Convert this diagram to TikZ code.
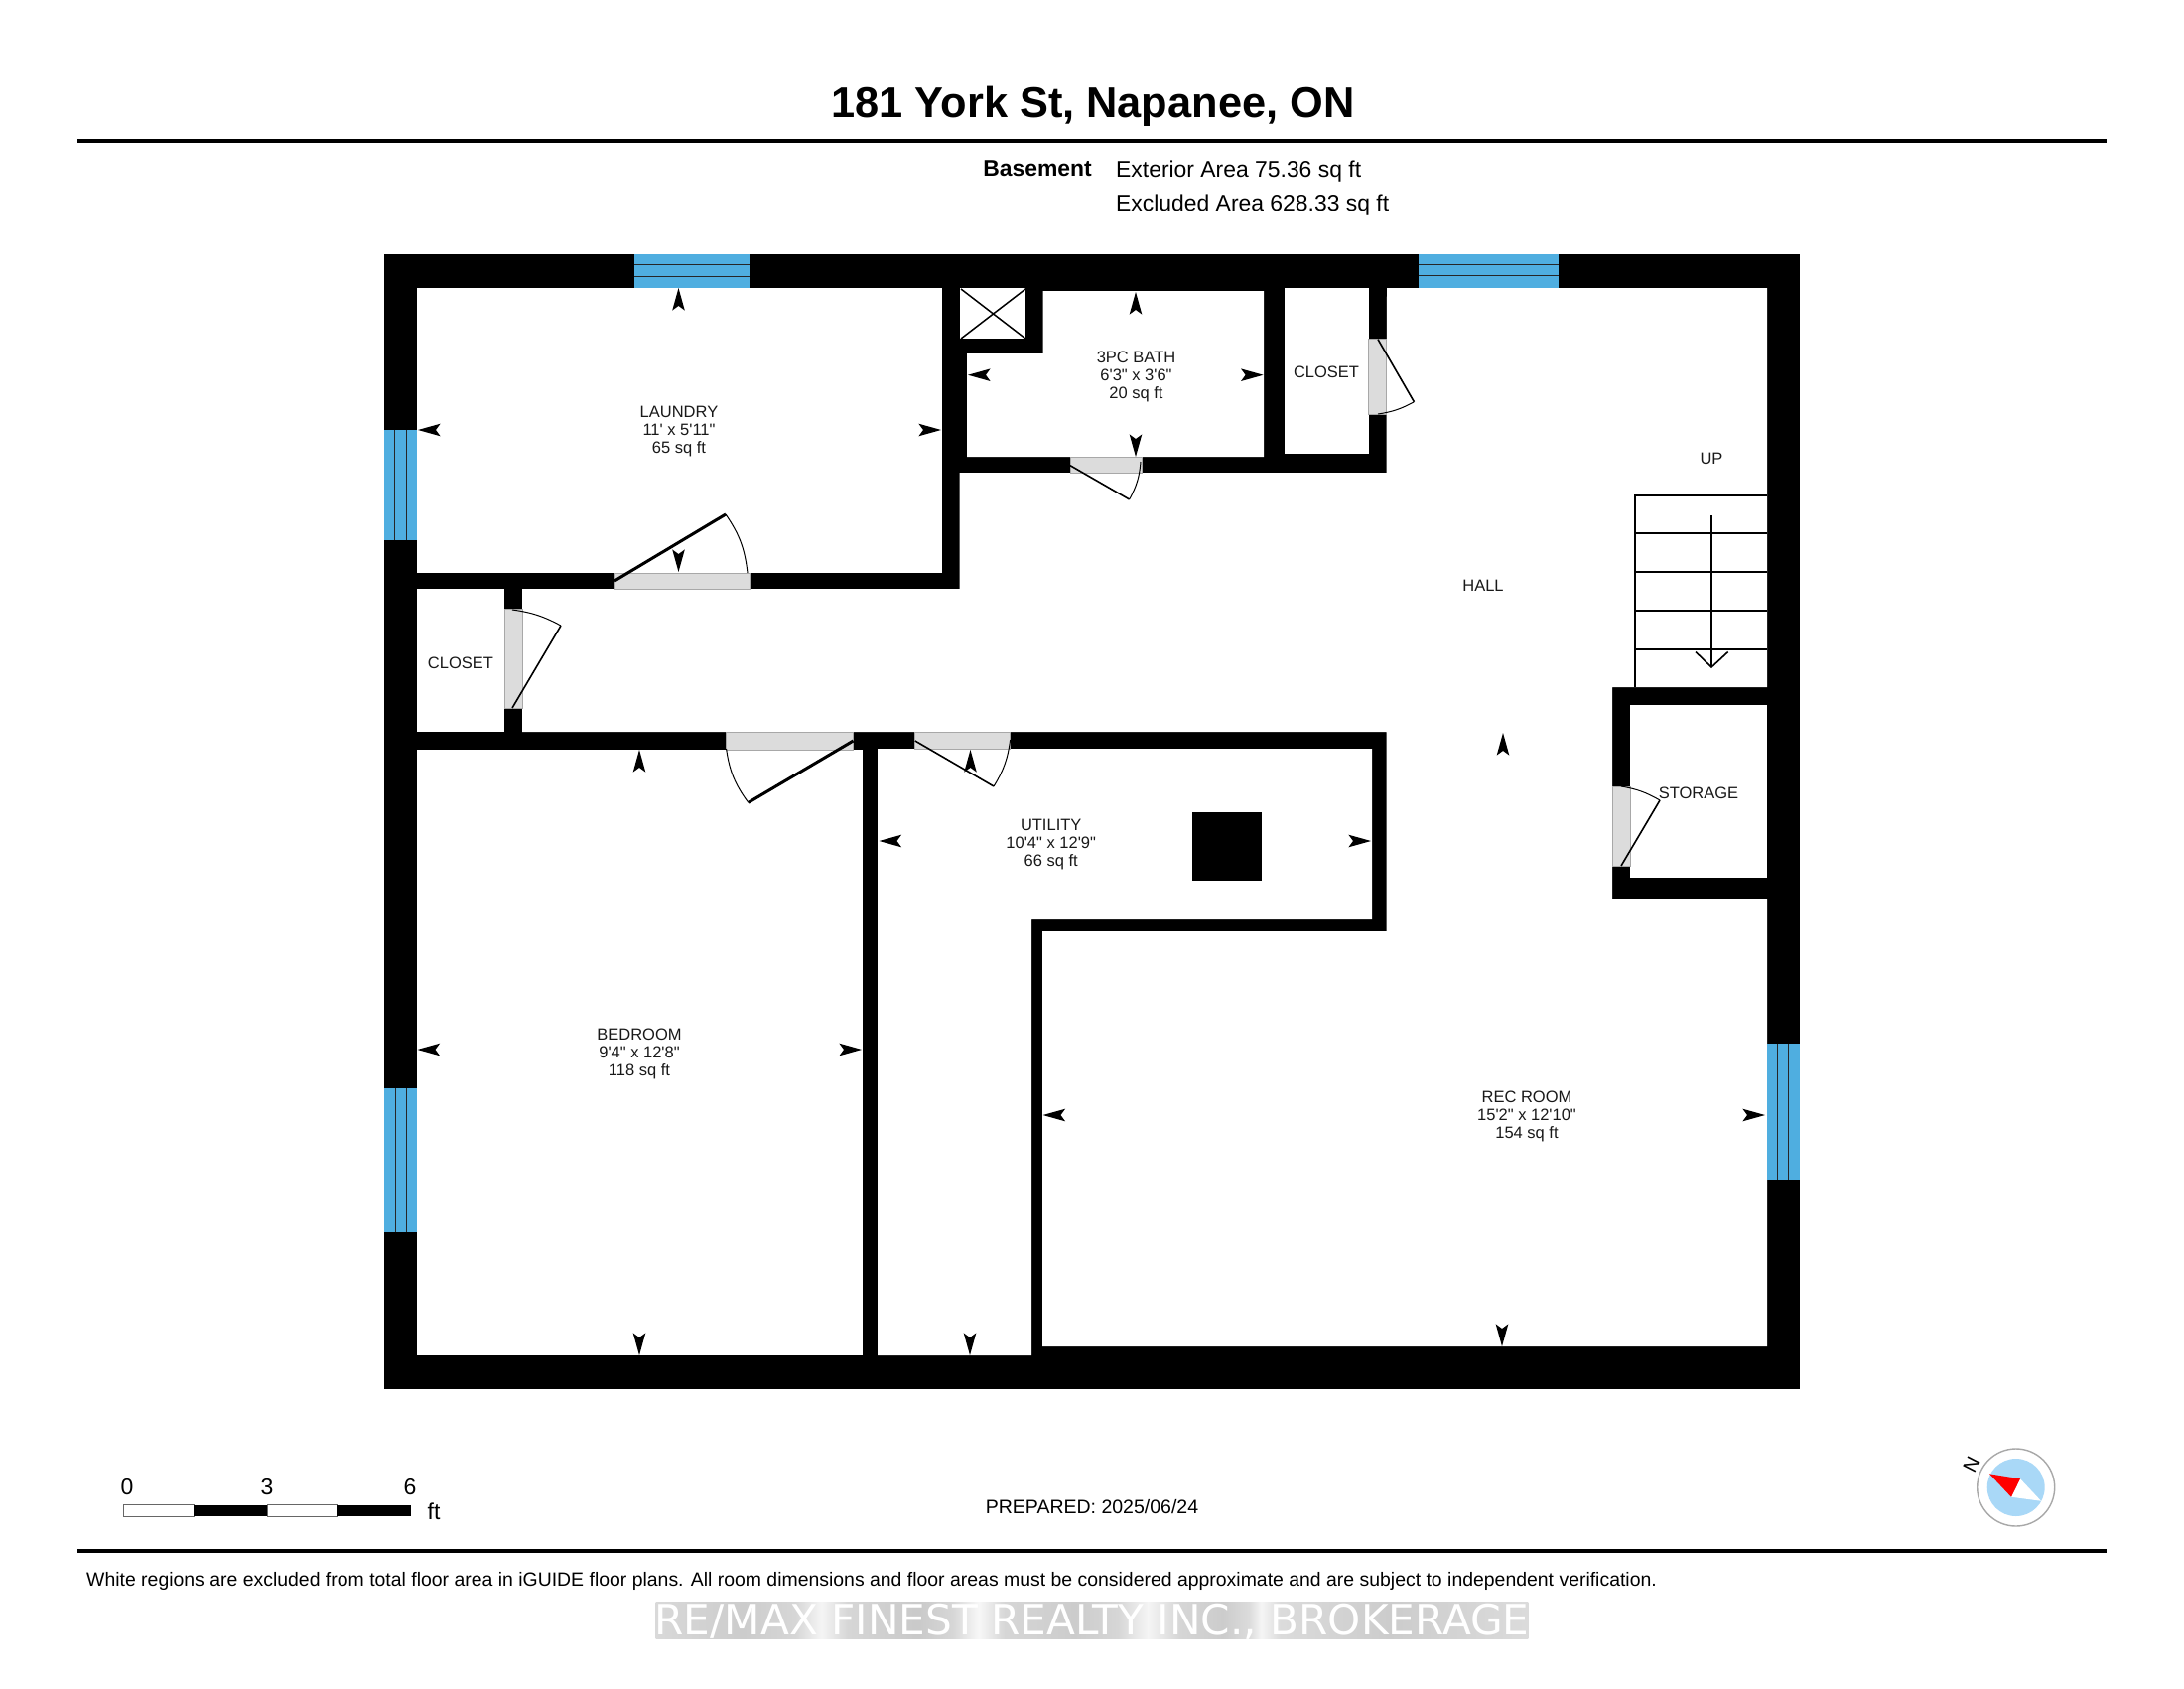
\documentclass[tikz,border=0pt]{standalone}
\usepackage{fontspec}
\newfontfamily\lsans{Liberation Sans}
\newfontfamily\dvsans{DejaVu Sans}
\definecolor{winblue}{HTML}{4FAEE0}
\definecolor{doorgray}{HTML}{DCDCDC}
\definecolor{edgegray}{HTML}{A8A8A8}
\definecolor{compblue}{HTML}{A9D8F7}
\pgfdeclarehorizontalshading{markshade}{100bp}{
 rgb(0bp)=(.85,.85,.85); rgb(25bp)=(.85,.85,.85); rgb(30bp)=(.80,.80,.80); rgb(33bp)=(.84,.84,.84);
 rgb(34.5bp)=(.96,.96,.96); rgb(36bp)=(.84,.84,.84); rgb(40bp)=(.79,.79,.79); rgb(42bp)=(.84,.84,.84);
 rgb(43.5bp)=(.97,.97,.97); rgb(45bp)=(.84,.84,.84); rgb(49bp)=(.80,.80,.80); rgb(51.5bp)=(.84,.84,.84);
 rgb(53.2bp)=(.96,.96,.96); rgb(55bp)=(.84,.84,.84); rgb(57.5bp)=(.80,.80,.80); rgb(59bp)=(.86,.86,.86);
 rgb(59.7bp)=(.96,.96,.96); rgb(60.8bp)=(.86,.86,.86); rgb(67bp)=(.80,.80,.80); rgb(75bp)=(.86,.86,.86); rgb(100bp)=(.86,.86,.86)}
\tikzset{
 lbl/.style={font=\lsans\fontsize{16.5}{18}\selectfont,align=center,inner sep=0pt,text=black!90,yshift=-1.7pt},
 wall/.style={fill=black},
 room/.style={fill=white},
 win/.style={fill=winblue},
 winline/.style={draw=black!85,line width=1pt},
 doorbox/.style={fill=doorgray,draw=edgegray,line width=.8pt},
 leafthick/.style={draw=black,line width=3pt},
 leafthin/.style={draw=black,line width=1.6pt},
 swing/.style={draw=black,line width=1pt},
 stair/.style={draw=black,line width=1.6pt},
 rule/.style={draw=black,line width=4pt},
}
\newcommand{\roomarrow}[3]{\fill[shift={(#1,#2)},rotate=#3] (0,0)--(-6.3,22.6)--(0,18)--(6.3,22.6)--cycle;}
\begin{document}
\begin{tikzpicture}[x=1pt,y=-1pt]
\useasboundingbox (0,0) rectangle (2200,1700);
\fill[white] (0,0) rectangle (2200,1700);
% header
\node[inner sep=0pt,font=\lsans\bfseries\fontsize{43.35}{48}\selectfont] (title) at (1101,107) {181 York St, Napanee, ON};
\draw[rule] (78,141.5) -- (2122,141.5);
\node[inner sep=0pt,font=\lsans\bfseries\fontsize{22.9}{26}\selectfont,anchor=east] (basement) at (1100,170) {Basement};
\node[inner sep=0pt,font=\lsans\fontsize{22.9}{26}\selectfont,anchor=west] (exterior) at (1124,172.5) {Exterior Area 75.36 sq ft};
\node[inner sep=0pt,font=\lsans\fontsize{22.9}{26}\selectfont,anchor=west] (excluded) at (1124,207) {Excluded Area 628.33 sq ft};
% walls
\fill[wall] (386.5,256) rectangle (1813,1399);
\fill[room] (420,290) rectangle (949,577);
\fill[room] (420,593) rectangle (508,737);
\fill[room] (1397,290)--(1780,290)--(1780,692)--(1624,692)--(1624,905)--(1780,905)--(1780,1356)--(1050,1356)--(1050,938)--(1396.6,938)--(1396.6,737)--(526,737)--(526,593)--(966.6,593)--(966.6,476)--(1396.6,476)--cycle;
\fill[room] (1642,710) rectangle (1780,884);
\fill[room] (420,755) rectangle (868.5,1365);
\fill[room] (884,754)--(1382,754)--(1382,926)--(1039,926)--(1039,1365)--(884,1365)--cycle;
\fill[room] (966.5,290) rectangle (1033,341);
\fill[room] (1050.5,293)--(1273,293)--(1273,460)--(974,460)--(974,356)--(1050.5,356)--cycle;
\fill[room] (1294,290) rectangle (1378.7,457);
\fill[wall] (1201,818) rectangle (1270.6,887);
% shaft cross
\draw[draw=black,line width=1.5pt] (968,291) -- (1033,341) (1033,291) -- (968,341);
% windows
\fill[win] (639,256) rectangle (755,290);
\draw[winline] (639,266) -- (755,266) (639,278) -- (755,278);
\fill[win] (1429.4,256) rectangle (1570,290);
\draw[winline] (1429.4,266.8) -- (1570,266.8) (1429.4,277.5) -- (1570,277.5);
\fill[win] (386.5,432.7) rectangle (420,544);
\draw[winline] (397,432.7) -- (397,544) (409,432.7) -- (409,544);
\fill[win] (386.5,1096) rectangle (420,1240.7);
\draw[winline] (398.5,1096) -- (398.5,1240.7) (409.5,1096) -- (409.5,1240.7);
\fill[win] (1780,1051) rectangle (1813,1187.7);
\draw[winline] (1790.6,1051) -- (1790.6,1187.7) (1801,1051) -- (1801,1187.7);
% doors
\filldraw[doorbox] (619,577) rectangle (755,593);
\draw[leafthick] (619,585) -- (731,518);
\draw[swing] (731,518) to[bend left=14] (753,577);
\filldraw[doorbox] (508,613) rectangle (526,713);
\draw[leafthin] (516,713) -- (565,630);
\draw[swing] (565,630) to[bend right=10] (516,614);
\filldraw[doorbox] (731.6,737) rectangle (859.5,755);
\draw[leafthick] (859.5,746) -- (753.8,808.3);
\draw[swing] (753.8,808.3) to[bend left=14] (731.6,754);
\filldraw[doorbox] (921.8,737) rectangle (1017.6,754);
\draw[leafthin] (921.8,746) -- (1001,792);
\draw[swing] (1001,792) to[bend right=12] (1017.6,745);
\filldraw[doorbox] (1078,460) rectangle (1150,476);
\draw[leafthin] (1078,468.7) -- (1137.6,503);
\draw[swing] (1137.6,503) to[bend right=12] (1149,465);
\filldraw[doorbox] (1378.7,341.7) rectangle (1396.6,417.7);
\draw[leafthin] (1388,341.7) -- (1424.4,404.7);
\draw[swing] (1424.4,404.7) to[bend left=10] (1388,417);
\filldraw[doorbox] (1624,792) rectangle (1642,872.6);
\draw[leafthin] (1633,872) -- (1672,806);
\draw[swing] (1672,806) to[bend right=10] (1633,792);
% stairs
\draw[stair] (1647,692) -- (1647,499) -- (1780,499);
\draw[stair] (1647,537) -- (1780,537) (1647,576) -- (1780,576) (1647,615) -- (1780,615) (1647,654) -- (1780,654);
\draw[stair] (1724,519) -- (1724,672);
\draw[stair] (1708,656.5) -- (1724,672) -- (1740.7,656.5);
% room arrows
\roomarrow{683.5}{290}{0}\roomarrow{421}{433}{90}\roomarrow{948}{433}{-90}\roomarrow{683.5}{576}{180}
\roomarrow{1144}{294}{0}\roomarrow{975}{377.7}{90}\roomarrow{1272.6}{377.7}{-90}\roomarrow{1144}{460}{180}
\roomarrow{644}{755}{0}\roomarrow{420.5}{1057}{90}\roomarrow{868}{1057}{-90}\roomarrow{644}{1365}{180}
\roomarrow{977.5}{755}{0}\roomarrow{885.5}{847}{90}\roomarrow{1381}{847}{-90}\roomarrow{977}{1365}{180}
\roomarrow{1514}{738}{0}\roomarrow{1050.5}{1123}{90}\roomarrow{1778}{1123}{-90}\roomarrow{1513}{1356}{180}
% labels
\node[lbl] (laundry) at (684,433) {LAUNDRY\\11' x 5'11"\\65 sq ft};
\node[lbl] (bath) at (1144.5,377.6) {3PC BATH\\6'3" x 3'6"\\20 sq ft};
\node[lbl] (closetr) at (1336,373) {CLOSET};
\node[lbl] (closetl) at (464,665.7) {CLOSET};
\node[lbl] (utility) at (1058.7,849) {UTILITY\\10'4" x 12'9"\\66 sq ft};
\node[lbl] (bedroom) at (644,1060) {BEDROOM\\9'4" x 12'8"\\118 sq ft};
\node[lbl] (rec) at (1538,1122.7) {REC ROOM\\15'2" x 12'10"\\154 sq ft};
\node[lbl] (hall) at (1494,588) {HALL};
\node[lbl] (up) at (1724,460) {UP};
\node[lbl] (storage) at (1711,797) {STORAGE};
% scale bar
\filldraw[fill=white,draw=black!60,line width=1pt] (124.3,1515.7) rectangle (195,1527);
\fill[black] (195,1515.7) rectangle (269,1527);
\filldraw[fill=white,draw=black!60,line width=1pt] (269,1515.7) rectangle (339,1527);
\fill[black] (339,1515.7) rectangle (414,1527);
\node[inner sep=0pt,font=\lsans\fontsize{23}{26}\selectfont] (s0) at (128,1498) {0};
\node[inner sep=0pt,font=\lsans\fontsize{23}{26}\selectfont] (s3) at (269,1498) {3};
\node[inner sep=0pt,font=\lsans\fontsize{23}{26}\selectfont] (s6) at (413,1498) {6};
\node[inner sep=0pt,font=\lsans\fontsize{23}{26}\selectfont] (sft) at (437,1522) {ft};
% prepared and compass
\node[inner sep=0pt,font=\lsans\fontsize{19.5}{24}\selectfont] (prep) at (1100,1518) {PREPARED: 2025/06/24};
\filldraw[fill=white,draw=edgegray,line width=1.4pt] (2030.7,1498) circle (39);
\fill[compblue] (2030.7,1498) circle (29);
\fill[white] (2035,1489.3) -- (2056,1511.7) -- (2026,1507.7) -- cycle;
\fill[red] (2004,1484.3) -- (2035,1489.3) -- (2026,1507.7) -- cycle;
\node[inner sep=0pt,rotate=63,font=\lsans\fontsize{20}{24}\selectfont] (north) at (1986,1474.7) {N};
% footer
\draw[rule] (78,1562) -- (2122,1562);
\node[inner sep=0pt,anchor=west,font=\lsans\fontsize{19.43}{24}\selectfont] (foot) at (87,1592.5) {White regions are excluded from total floor area in iGUIDE floor plans. All room dimensions and floor areas must be considered approximate and are subject to independent verification.};
\shade[shading=markshade] (660.6,1613) rectangle (1539.4,1650);
\node[inner sep=0pt,anchor=base,font=\dvsans\fontsize{42.2}{46}\selectfont,text=white] (mark) at (1100,1646) {RE/MAX FINEST REALTY INC., BROKERAGE};
\end{tikzpicture}
\end{document}
